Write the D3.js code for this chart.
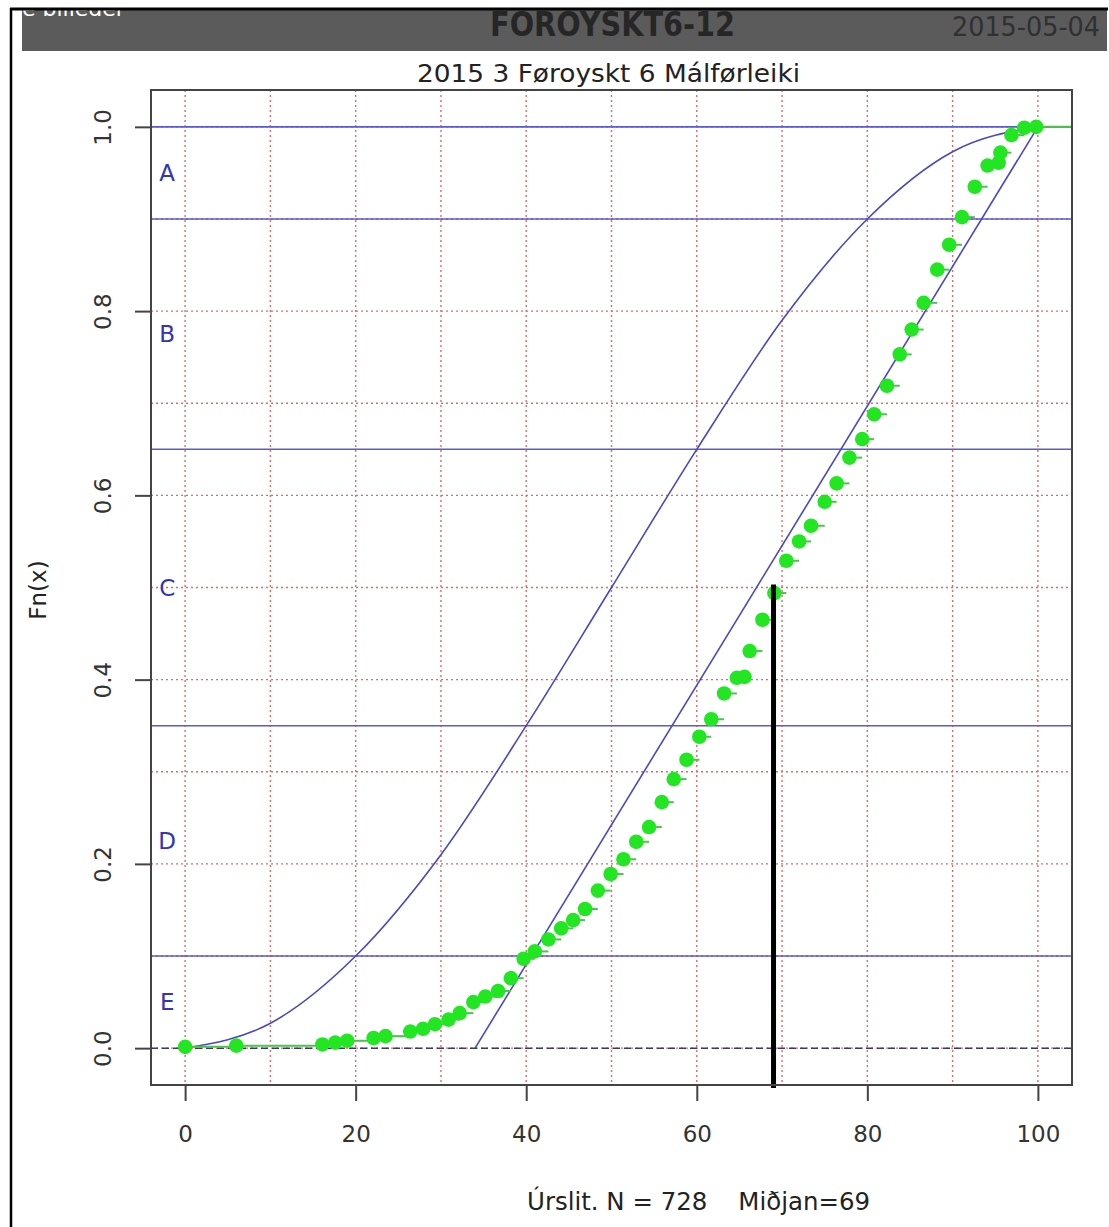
<!DOCTYPE html>
<html>
<head>
<meta charset="utf-8">
<script src="https://cdn.jsdelivr.net/npm/d3@7"></script>
<style>
  html, body { margin: 0; padding: 0; background: #fff; }
  svg { display: block; }
  text { font-family: "DejaVu Sans", sans-serif; }
</style>
</head>
<body>
<script>
// ---------- data ----------
const headerLeft = "e billeder";
const headerTitle = "FOROYSKT6-12";
const headerDate = "2015-05-04";
const chartTitle = "2015 3 Føroyskt 6 Málførleiki";
const yAxisTitle = "Fn(x)";
const footerText = "Úrslit. N = 728    Miðjan=69";

const xTicks = [0, 20, 40, 60, 80, 100];
const yTicks = [0.0, 0.2, 0.4, 0.6, 0.8, 1.0];
const yTickLabels = ["0.0", "0.2", "0.4", "0.6", "0.8", "1.0"];
const gridX = [0, 10, 20, 30, 40, 50, 60, 70, 80, 90, 100];
const gridY = [0, 0.1, 0.2, 0.3, 0.4, 0.5, 0.6, 0.7, 0.8, 0.9, 1.0];

// grade boundaries (blue horizontal lines) and grade letters
const boundaries = [1.0, 0.9, 0.65, 0.35, 0.1];
const gradeLetters = ["A", "B", "C", "D", "E"];
const gradeLetterY = [0.95, 0.775, 0.5, 0.225, 0.05];

// reference S-curve
const sCurveX = [0, 10, 20, 30, 40, 50, 60, 70, 80, 90, 100];
const sCurveY = [0, 0.027, 0.1, 0.21, 0.35, 0.5, 0.65, 0.79, 0.9, 0.973, 1];

// reference straight line
const lineX = [34, 100];
const lineY = [0, 1];

// median marker
const medianX = 69;
const medianY = 0.5;

// empirical CDF points
const ecdfX = [0, 6.0, 16.1, 17.6, 19.0, 22.1, 23.5, 26.4, 27.9, 29.3, 30.9, 32.2, 33.8, 35.2, 36.7, 38.2,
  39.7, 41.0, 42.6, 44.1, 45.5, 46.9, 48.4, 49.9, 51.4, 52.9, 54.4, 55.9, 57.3, 58.8, 60.3, 61.7,
  63.2, 64.7, 65.6, 66.2, 67.7, 69.1, 70.5, 72.0, 73.4, 75.0, 76.4, 77.9, 79.4, 80.8, 82.3, 83.8,
  85.2, 86.6, 88.2, 89.6, 91.1, 92.6, 94.1, 95.4, 95.6, 96.9, 98.4, 99.8];
const ecdfY = [0.0014, 0.0027, 0.004, 0.006, 0.008, 0.011, 0.013, 0.018, 0.021, 0.026, 0.031, 0.038, 0.050, 0.056, 0.062, 0.076,
  0.097, 0.105, 0.118, 0.130, 0.139, 0.151, 0.171, 0.189, 0.205, 0.224, 0.240, 0.267, 0.292, 0.313, 0.338, 0.357,
  0.385, 0.402, 0.403, 0.431, 0.465, 0.494, 0.529, 0.550, 0.567, 0.593, 0.613, 0.641, 0.661, 0.688, 0.719, 0.753,
  0.780, 0.809, 0.845, 0.872, 0.902, 0.935, 0.958, 0.961, 0.972, 0.991, 0.999, 1.0];

// ---------- drawing ----------
const W = 1109, H = 1227;
const svg = d3.select("body").append("svg").attr("width", W).attr("height", H);

const plot = { left: 151, right: 1072, top: 90, bottom: 1085 };
const x = d3.scaleLinear().domain([-4, 104]).range([plot.left, plot.right]);
const y = d3.scaleLinear().domain([-0.04, 1.04]).range([plot.bottom, plot.top]);

// header bar
svg.append("defs").append("clipPath").attr("id", "hdr")
  .append("rect").attr("x", 22).attr("y", 10).attr("width", 1085).attr("height", 41);
svg.append("rect").attr("x", 22).attr("y", 10).attr("width", 1085).attr("height", 41).attr("fill", "#5b5b5b");
svg.append("text").attr("x", 22).attr("y", 16).attr("clip-path", "url(#hdr)")
  .attr("fill", "#fff").style("font-size", "22px").text(headerLeft);
svg.append("text").attr("x", 490).attr("y", 36)
  .attr("textLength", 245).attr("lengthAdjust", "spacingAndGlyphs")
  .attr("fill", "#262626").style("font-weight", "bold").style("font-size", "33px").text(headerTitle);
svg.append("text").attr("x", 952).attr("y", 36)
  .attr("textLength", 148).attr("lengthAdjust", "spacingAndGlyphs")
  .attr("fill", "#303030").style("font-size", "27px").text(headerDate);

// frame lines (black)
svg.append("line").attr("x1", 10).attr("x2", 1108).attr("y1", 9).attr("y2", 9).attr("stroke", "#000").attr("stroke-width", 3);
svg.append("line").attr("x1", 11).attr("x2", 11).attr("y1", 8).attr("y2", H).attr("stroke", "#000").attr("stroke-width", 2.5);

// chart title
svg.append("text").attr("x", 417).attr("y", 82)
  .attr("textLength", 383).attr("lengthAdjust", "spacingAndGlyphs")
  .attr("fill", "#222").style("font-size", "24px").text(chartTitle);

// grid (red dotted)
const g = svg.append("g");
g.selectAll("line.gx").data(gridX).enter().append("line")
  .attr("x1", d => x(d)).attr("x2", d => x(d)).attr("y1", plot.top).attr("y2", plot.bottom)
  .attr("stroke", "#e06a6a").attr("stroke-width", 1.4).attr("stroke-dasharray", "2,3");
g.selectAll("line.gy").data(gridY).enter().append("line")
  .attr("x1", plot.left).attr("x2", plot.right).attr("y1", d => y(d)).attr("y2", d => y(d))
  .attr("stroke", "#e06a6a").attr("stroke-width", 1.4).attr("stroke-dasharray", "2,3");

// blue boundary lines
g.selectAll("line.b").data(boundaries).enter().append("line")
  .attr("x1", plot.left).attr("x2", plot.right).attr("y1", d => y(d)).attr("y2", d => y(d))
  .attr("stroke", "#5a5ad8").attr("stroke-width", 1.6);

// dashed baseline at 0
g.append("line").attr("x1", plot.left).attr("x2", plot.right).attr("y1", y(0)).attr("y2", y(0))
  .attr("stroke", "#3a3a66").attr("stroke-width", 1.5).attr("stroke-dasharray", "7,4");

// grade letters
g.selectAll("text.grade").data(gradeLetters).enter().append("text")
  .attr("x", x(-2.1)).attr("y", (d, i) => y(gradeLetterY[i]))
  .attr("text-anchor", "middle").attr("dominant-baseline", "central")
  .attr("fill", "#3434b4").style("font-size", "23px").text(d => d);

// reference curves
const sPts = sCurveX.map((v, i) => [v, sCurveY[i]]);
g.append("path").datum(sPts)
  .attr("d", d3.line().x(d => x(d[0])).y(d => y(d[1])).curve(d3.curveMonotoneX))
  .attr("fill", "none").attr("stroke", "#4848c4").attr("stroke-width", 1.6);
const lPts = lineX.map((v, i) => [v, lineY[i]]);
g.append("path").datum(lPts)
  .attr("d", d3.line().x(d => x(d[0])).y(d => y(d[1])))
  .attr("fill", "none").attr("stroke", "#4848c4").attr("stroke-width", 1.6);

// ecdf step segments
const pts = ecdfX.map((v, i) => [v, ecdfY[i]]);
const segs = pts.map((p, i) => [p[0], i < pts.length - 1 ? pts[i + 1][0] : 104, p[1]]);
g.selectAll("line.step").data(segs).enter().append("line")
  .attr("x1", d => x(d[0])).attr("x2", d => x(d[1])).attr("y1", d => y(d[2])).attr("y2", d => y(d[2]))
  .attr("stroke", "#4ec24e").attr("stroke-width", 2);

// ecdf points
g.selectAll("circle").data(pts).enter().append("circle")
  .attr("cx", d => x(d[0])).attr("cy", d => y(d[1])).attr("r", 7.3)
  .attr("fill", "#22e622");

// median line
g.append("line").attr("x1", x(medianX)).attr("x2", x(medianX))
  .attr("y1", y(medianY) - 3).attr("y2", plot.bottom + 3)
  .attr("stroke", "#000").attr("stroke-width", 5);

// plot box
svg.append("rect").attr("x", plot.left).attr("y", plot.top)
  .attr("width", plot.right - plot.left).attr("height", plot.bottom - plot.top)
  .attr("fill", "none").attr("stroke", "#444").attr("stroke-width", 2);

// x axis
const xAxis = svg.append("g").attr("transform", `translate(0,${plot.bottom})`)
  .call(d3.axisBottom(x).tickValues(xTicks).tickSize(16).tickPadding(25).tickFormat(d3.format("d")));
xAxis.select(".domain").remove();
xAxis.selectAll("line").attr("stroke", "#444").attr("stroke-width", 2);
xAxis.selectAll("text").attr("fill", "#333").style("font-size", "23px").style("font-family", "'DejaVu Sans', sans-serif");

// y axis
const yAxis = svg.append("g").attr("transform", `translate(${plot.left},0)`)
  .call(d3.axisLeft(y).tickValues(yTicks).tickSize(16).tickFormat((d, i) => yTickLabels[i]));
yAxis.select(".domain").remove();
yAxis.selectAll("line").attr("stroke", "#444").attr("stroke-width", 2);
yAxis.selectAll("text")
  .attr("x", null).attr("dy", null)
  .attr("text-anchor", "middle")
  .attr("transform", "translate(-48,0) rotate(-90) translate(0,8)")
  .attr("fill", "#333").style("font-size", "23px").style("font-family", "'DejaVu Sans', sans-serif");

// y axis title
svg.append("text").attr("transform", "translate(46,590) rotate(-90)")
  .attr("text-anchor", "middle").attr("fill", "#222").style("font-size", "23px").text(yAxisTitle);

// footer
svg.append("text").attr("x", 527).attr("y", 1210)
  .attr("textLength", 343).attr("lengthAdjust", "spacingAndGlyphs")
  .attr("fill", "#222").style("font-size", "24px").style("white-space", "pre")
  .attr("xml:space", "preserve").text(footerText);
</script>
</body>
</html>
